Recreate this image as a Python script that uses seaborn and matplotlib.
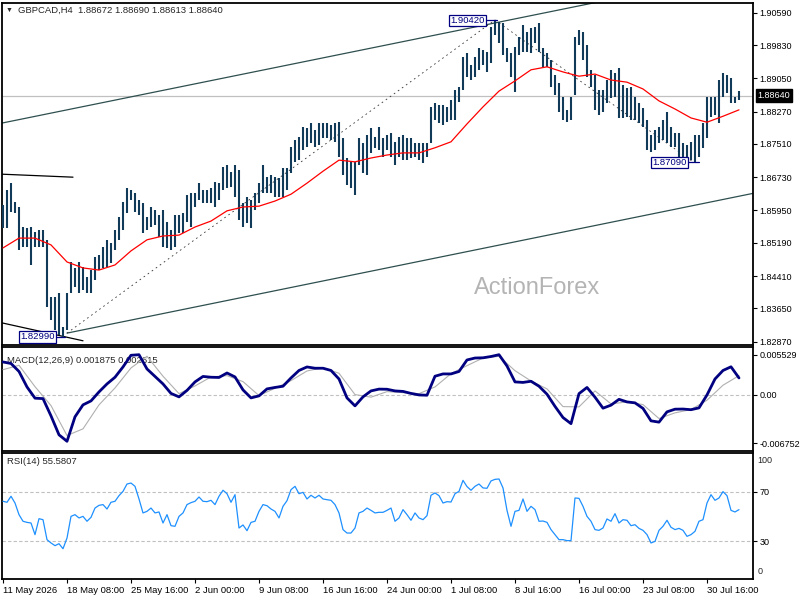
import numpy as np
import pandas as pd
import seaborn as sns
import matplotlib
matplotlib.use("Agg")
import matplotlib.pyplot as plt
import matplotlib.transforms as mtransforms

# GBPCAD H4, aggregated two bars per point (high / low)
highs = [
    1.8608, 1.8643, 1.8659, 1.8615, 1.8603, 1.8556, 1.8554, 1.8556, 1.8544, 1.8549,
    1.8549, 1.8526, 1.8392, 1.8392, 1.8401, 1.8321, 1.8401, 1.8474, 1.8460, 1.8474,
    1.8462, 1.8439, 1.8455, 1.8486, 1.8490, 1.8509, 1.8526, 1.8519, 1.8549, 1.8580,
    1.8615, 1.8648, 1.8643, 1.8636, 1.8619, 1.8612, 1.8580, 1.8603, 1.8596, 1.8584,
    1.8596, 1.8568, 1.8549, 1.8584, 1.8584, 1.8589, 1.8631, 1.8636, 1.8636, 1.8659,
    1.8643, 1.8643, 1.8648, 1.8662, 1.8659, 1.8697, 1.8702, 1.8685, 1.8702, 1.8690,
    1.8612, 1.8627, 1.8619, 1.8636, 1.8659, 1.8702, 1.8673, 1.8678, 1.8673, 1.8671,
    1.8695, 1.8695, 1.8744, 1.8760, 1.8767, 1.8791, 1.8788, 1.8800, 1.8784, 1.8800,
    1.8800, 1.8800, 1.8796, 1.8800, 1.8802, 1.8765, 1.8718, 1.8709, 1.8709, 1.8765,
    1.8753, 1.8772, 1.8788, 1.8767, 1.8791, 1.8765, 1.8772, 1.8777, 1.8756, 1.8767,
    1.8772, 1.8765, 1.8765, 1.8753, 1.8753, 1.8753, 1.8753, 1.8838, 1.8847, 1.8842,
    1.8842, 1.8838, 1.8854, 1.8878, 1.8885, 1.8955, 1.8964, 1.8936, 1.8955, 1.8976,
    1.8972, 1.8967, 1.9025, 1.9042, 1.9037, 1.9035, 1.8976, 1.8964, 1.8979, 1.9002,
    1.9030, 1.9014, 1.9023, 1.9025, 1.9035, 1.8976, 1.8964, 1.8948, 1.8913, 1.8894,
    1.8861, 1.8831, 1.8861, 1.9002, 1.9018, 1.9014, 1.8983, 1.8925, 1.8913, 1.8878,
    1.8878, 1.8901, 1.8925, 1.8918, 1.8929, 1.8889, 1.8882, 1.8885, 1.8861, 1.8847,
    1.8835, 1.8807, 1.8772, 1.8784, 1.8791, 1.8807, 1.8826, 1.8791, 1.8777, 1.8777,
    1.8753, 1.8749, 1.8756, 1.8772, 1.8772, 1.8800, 1.8861, 1.8861, 1.8861, 1.8901,
    1.8918, 1.8913, 1.8906, 1.8861, 1.8876,
]
lows = [
    1.8554, 1.8554, 1.8591, 1.8589, 1.8502, 1.8509, 1.8509, 1.8467, 1.8509, 1.8509,
    1.8509, 1.8368, 1.8338, 1.8314, 1.8303, 1.8299, 1.8314, 1.8401, 1.8415, 1.8401,
    1.8408, 1.8401, 1.8401, 1.8432, 1.8455, 1.8460, 1.8462, 1.8472, 1.8502, 1.8526,
    1.8549, 1.8589, 1.8619, 1.8591, 1.8584, 1.8542, 1.8549, 1.8556, 1.8561, 1.8533,
    1.8509, 1.8507, 1.8502, 1.8509, 1.8542, 1.8542, 1.8568, 1.8556, 1.8603, 1.8619,
    1.8612, 1.8612, 1.8612, 1.8603, 1.8619, 1.8643, 1.8648, 1.8650, 1.8627, 1.8573,
    1.8556, 1.8566, 1.8554, 1.8596, 1.8612, 1.8636, 1.8636, 1.8636, 1.8627, 1.8627,
    1.8627, 1.8643, 1.8683, 1.8709, 1.8713, 1.8737, 1.8744, 1.8753, 1.8744, 1.8749,
    1.8765, 1.8765, 1.8760, 1.8755, 1.8720, 1.8678, 1.8655, 1.8648, 1.8631, 1.8702,
    1.8683, 1.8678, 1.8730, 1.8742, 1.8737, 1.8720, 1.8737, 1.8720, 1.8702, 1.8720,
    1.8713, 1.8713, 1.8718, 1.8720, 1.8713, 1.8706, 1.8720, 1.8753, 1.8807, 1.8800,
    1.8796, 1.8802, 1.8807, 1.8807, 1.8850, 1.8878, 1.8908, 1.8901, 1.8908, 1.8925,
    1.8936, 1.8920, 1.8941, 1.9007, 1.8988, 1.8960, 1.8943, 1.8908, 1.8873, 1.8960,
    1.8967, 1.8967, 1.8964, 1.8988, 1.8967, 1.8932, 1.8932, 1.8885, 1.8866, 1.8826,
    1.8807, 1.8802, 1.8807, 1.8866, 1.8983, 1.8948, 1.8908, 1.8885, 1.8831, 1.8819,
    1.8826, 1.8847, 1.8859, 1.8861, 1.8812, 1.8812, 1.8814, 1.8807, 1.8807, 1.8800,
    1.8791, 1.8737, 1.8732, 1.8737, 1.8753, 1.8760, 1.8753, 1.8744, 1.8744, 1.8720,
    1.8720, 1.8713, 1.8713, 1.8709, 1.8720, 1.8742, 1.8765, 1.8814, 1.8819, 1.8800,
    1.8861, 1.8871, 1.8847, 1.8847, 1.8855,
]

# red moving average, one value every 4th point
ma_line = [
    1.8507, 1.8530, 1.8530, 1.8514, 1.8474, 1.8460, 1.8455, 1.8467, 1.8500, 1.8526,
    1.8535, 1.8537, 1.8556, 1.8570, 1.8594, 1.8603, 1.8605, 1.8617, 1.8633, 1.8659,
    1.8687, 1.8713, 1.8709, 1.8718, 1.8725, 1.8730, 1.8730, 1.8742, 1.8756, 1.8798,
    1.8838, 1.8875, 1.8899, 1.8925, 1.8932, 1.8920, 1.8910, 1.8915, 1.8901, 1.8896,
    1.8880, 1.8852, 1.8833, 1.8812, 1.8802, 1.8816, 1.8831,
]

# MACD(12,26,9) in units of 1e-3: main every 2nd point, signal every 4th point
macd_main = [
    4.52, 4.31, 3.20, 1.05, -0.51, -0.57, -2.97, -5.60, -6.50, -3.10,
    -1.44, -0.89, 0.36, 1.47, 2.40, 3.83, 5.45, 5.53, 3.55, 2.51,
    1.47, 0.15, -0.33, 0.57, 1.75, 2.51, 2.40, 2.37, 2.99, 2.44,
    0.64, -0.47, -0.19, 0.78, 0.98, 1.15, 2.30, 3.34, 3.83, 3.65,
    3.65, 3.34, 2.16, -0.47, -1.58, -0.33, 0.50, 0.75, 0.73, 0.50,
    0.43, 0.15, -0.06, -0.10, 2.54, 2.86, 2.86, 3.20, 4.80, 5.07,
    5.10, 5.28, 5.53, 3.96, 1.75, 1.68, 1.84, 1.15, 0.04, -1.65,
    -3.20, -4.05, 0.12, 0.98, -0.37, -1.90, -1.48, -0.67, -1.03, -1.16,
    -1.93, -3.66, -3.84, -2.41, -2.04, -2.02, -2.11, -1.86, -0.06, 2.16,
    3.34, 3.85, 2.30,
]
macd_signal = [
    3.45, 4.06, 1.09, -1.54, -5.70, -4.77, -1.44, 0.91, 3.69, 5.31,
    2.54, 0.12, 1.19, 2.44, 2.62, 1.79, -0.15, 0.87, 1.93, 3.27,
    3.73, 2.95, -0.01, -0.37, 0.40, 0.26, 0.12, 1.05, 2.90, 4.01,
    5.07, 5.31, 3.31, 1.88, 0.78, -1.68, -1.72, 0.50, -1.30, -1.03,
    -1.40, -3.34, -2.55, -2.09, -0.79, 1.29, 2.62,
]

# RSI(14)
rsi_vals = [
    62.4, 61.6, 66.5, 61.0, 51.5, 46.1, 45.2, 44.7, 35.2, 48.2,
    47.4, 31.1, 28.4, 26.2, 27.8, 23.7, 32.4, 50.1, 51.5, 48.8,
    50.1, 46.1, 49.3, 56.9, 59.1, 59.7, 56.1, 61.6, 62.4, 67.0,
    70.5, 76.5, 77.3, 74.6, 64.3, 52.9, 54.2, 56.9, 52.9, 53.7,
    44.7, 51.5, 42.5, 42.0, 50.1, 52.9, 59.7, 61.3, 62.4, 65.9,
    62.4, 62.1, 63.2, 59.7, 66.5, 71.4, 68.6, 61.6, 67.8, 40.6,
    43.1, 38.4, 45.2, 46.1, 54.2, 59.7, 58.8, 56.1, 54.2, 48.8,
    58.3, 62.9, 71.9, 74.6, 68.6, 69.7, 64.3, 67.3, 65.1, 67.3,
    64.3, 63.7, 63.2, 59.7, 52.9, 39.3, 36.5, 36.5, 40.6, 52.9,
    54.2, 56.9, 55.0, 52.9, 53.4, 53.4, 55.0, 56.9, 46.1, 48.8,
    55.6, 51.5, 46.9, 52.9, 48.8, 47.4, 50.7, 67.3, 69.2, 67.0,
    61.0, 62.1, 61.8, 68.6, 70.5, 79.5, 74.4, 71.4, 74.6, 76.5,
    73.3, 73.0, 79.0, 80.3, 80.6, 73.3, 55.0, 42.0, 54.2, 55.0,
    64.3, 54.2, 58.3, 55.6, 46.1, 46.3, 45.2, 39.3, 35.2, 31.1,
    31.1, 30.3, 30.3, 65.1, 64.8, 58.3, 50.1, 46.1, 39.3, 38.7,
    40.6, 48.0, 46.1, 52.3, 44.7, 47.4, 46.9, 42.5, 43.3, 40.3,
    38.7, 35.2, 28.4, 29.7, 38.7, 42.0, 46.9, 41.2, 39.3, 40.3,
    38.7, 33.8, 35.2, 37.9, 46.1, 47.4, 61.0, 67.8, 63.2, 65.1,
    70.3, 67.0, 55.0, 53.7, 55.58,
]

date_labels = ["11 May 2026", "18 May 08:00", "25 May 16:00", "2 Jun 00:00",
               "9 Jun 08:00", "16 Jun 16:00", "24 Jun 00:00", "1 Jul 08:00",
               "8 Jul 16:00", "16 Jul 00:00", "23 Jul 08:00", "30 Jul 16:00"]
date_bars = [0, 16, 32, 48, 64, 80, 96, 112, 128, 144, 160, 176]
price_ticks = [1.82870, 1.83650, 1.84410, 1.85190, 1.85950, 1.86730,
               1.87510, 1.88270, 1.89050, 1.89830, 1.90590]
last_price = 1.88640

# drawn objects: (bar, price) pairs
channel_top = ([-0.25, 187.5], [1.8800, 1.9158])
channel_bottom = ([16, 187.5], [1.8307, 1.8635])
line_left_top = ([-0.25, 17.5], [1.8680, 1.8673])
line_left_bottom = ([-0.25, 20.0], [1.8331, 1.8289])
swing_up = ([16, 123], [1.8307, 1.9042])
swing_down = ([123, 172.5], [1.9042, 1.8709])
swing_labels = [("1.90420", 120.5, 1.9041, 123.5),
                ("1.87090", 171.0, 1.8708, 174.0),
                ("1.82990", 13.0, 1.8298, 15.5)]

sns.set_theme(style="white")
plt.rcParams['font.family'] = ['Liberation Sans', 'DejaVu Sans']
fs = 6.5
plt.rcParams['font.size'] = fs

n = len(highs)
bars = pd.DataFrame({"bar": np.arange(n), "high": highs, "low": lows})
ma_df = pd.DataFrame({"bar": np.arange(0, n, 4), "ma": ma_line})
macd_df = pd.DataFrame({"bar": np.arange(0, n, 2), "macd": np.array(macd_main) / 1000})
sig_df = pd.DataFrame({"bar": np.arange(0, n, 4), "sig": np.array(macd_signal) / 1000})
rsi_df = pd.DataFrame({"bar": np.arange(n), "rsi": rsi_vals})

bar_col = "#113a58"
trend_col = "#2f4f4f"
navy = "#000080"

fig = plt.figure(figsize=(8, 6), dpi=100)
ax1 = fig.add_axes([0.0025, 0.425, 0.93875, 0.57])
ax2 = fig.add_axes([0.0025, 0.24833, 0.93875, 0.17333])
ax3 = fig.add_axes([0.0025, 0.035, 0.93875, 0.21])

for ax in (ax1, ax2, ax3):
    ax.set_xlim(-0.25, 187.5)
    ax.yaxis.tick_right()
    ax.tick_params(axis='y', right=True, left=False, direction='out', length=3,
                   width=0.8, pad=1.5, labelsize=fs, colors='black')
    for s in ax.spines.values():
        s.set_color('black')
        s.set_linewidth(1.3)

right_tr1 = mtransforms.blended_transform_factory(ax1.transAxes, ax1.transData)

# main price panel
ax1.axhline(last_price, color='#c0c0c0', lw=0.9, zorder=1)
ax1.plot(*channel_top, color=trend_col, lw=0.9)
ax1.plot(*channel_bottom, color=trend_col, lw=0.9)
ax1.plot(*line_left_top, color='black', lw=0.9)
ax1.plot(*line_left_bottom, color='black', lw=0.9)
ax1.plot(*swing_up, color='#333333', lw=0.6, ls=(0, (2, 4)))
ax1.plot(*swing_down, color='#333333', lw=0.6, ls=(0, (2, 4)))
ax1.vlines(bars["bar"], bars["low"], bars["high"], color=bar_col, lw=1.5, zorder=3)
sns.lineplot(data=ma_df, x="bar", y="ma", ax=ax1, color='#ff0000', linewidth=0.9,
             errorbar=None, legend=False, zorder=4)
for txt, xr, yp, xb in swing_labels:
    ax1.plot([xr, xb], [yp, yp], color=navy, lw=0.9, zorder=5)
    ax1.text(xr, yp, txt, ha='right', va='center', color=navy, fontsize=fs + 0.3,
             zorder=6, bbox=dict(boxstyle='square,pad=0.12', fc='white', ec=navy, lw=0.9))
ax1.set_ylim(1.82791, 1.90818)
ax1.set_yticks(price_ticks)
ax1.set_yticklabels([f"{v:.5f}" for v in price_ticks])
ax1.set_xticks([])
ax1.text(0.712, 0.167, "ActionForex", transform=ax1.transAxes, ha='center', va='center',
         fontsize=17, color='#b4b4b4', zorder=0)
ax1.text(1.0062, last_price, f"{last_price:.5f}", transform=right_tr1, ha='left',
         va='center', color='white', fontsize=fs, clip_on=False,
         bbox=dict(boxstyle='square,pad=0.2', fc='black', ec='black'))
ax1.set_xlabel('')
ax1.set_ylabel('')

fig.text(6 / 800, 1 - 10 / 600, "\u25bc", fontsize=5, va='center', ha='left')
fig.text(18 / 800, 1 - 10 / 600, "GBPCAD,H4  1.88672 1.88690 1.88613 1.88640",
         fontsize=fs + 0.3, va='center', ha='left')

# MACD panel
ax2.axhline(0, color='#c0c0c0', lw=0.8, ls=(0, (3, 2)), zorder=1)
sns.lineplot(data=sig_df, x="bar", y="sig", ax=ax2, color='#b0b0b0', linewidth=0.8,
             errorbar=None, legend=False, zorder=3)
sns.lineplot(data=macd_df, x="bar", y="macd", ax=ax2, color=navy, linewidth=2.0,
             errorbar=None, legend=False, zorder=4)
ax2.set_ylim(-0.00785, 0.0066)
ax2.set_yticks([-0.006752, 0.0, 0.005529])
ax2.set_yticklabels(["-0.006752", "0.00", "0.005529"])
ax2.set_xticks([])
ax2.text(5 / 751, 0.87, "MACD(12,26,9) 0.001875 0.002615", transform=ax2.transAxes,
         ha='left', va='center', fontsize=fs + 0.3, zorder=2)
ax2.set_xlabel('')
ax2.set_ylabel('')

# RSI panel
right_tr3 = mtransforms.blended_transform_factory(ax3.transAxes, ax3.transData)
for lvl in (30, 70):
    ax3.axhline(lvl, color='#c0c0c0', lw=0.8, ls=(0, (3, 2)), zorder=1)
sns.lineplot(data=rsi_df, x="bar", y="rsi", ax=ax3, color='#1e90ff', linewidth=0.9,
             errorbar=None, legend=False, zorder=3)
ax3.set_ylim(-1.0, 101.8)
ax3.set_yticks([30, 70])
ax3.set_yticklabels(["30", "70"])
ax3.text(1.0062, 96, "100", transform=right_tr3, ha='left', va='center', fontsize=fs,
         clip_on=False)
ax3.text(1.0062, 5, "0", transform=right_tr3, ha='left', va='center', fontsize=fs,
         clip_on=False)
ax3.text(5 / 751, 0.93, "RSI(14) 55.5807", transform=ax3.transAxes, ha='left',
         va='center', fontsize=fs + 0.3, zorder=2)
ax3.set_xticks(date_bars)
ax3.set_xticklabels(date_labels, ha='left')
ax3.tick_params(axis='x', bottom=True, direction='out', length=3, width=0.8, pad=2,
                labelsize=fs + 0.3, colors='black')
ax3.set_xlabel('')
ax3.set_ylabel('')

fig.savefig("out.png", dpi=100, facecolor='white')
